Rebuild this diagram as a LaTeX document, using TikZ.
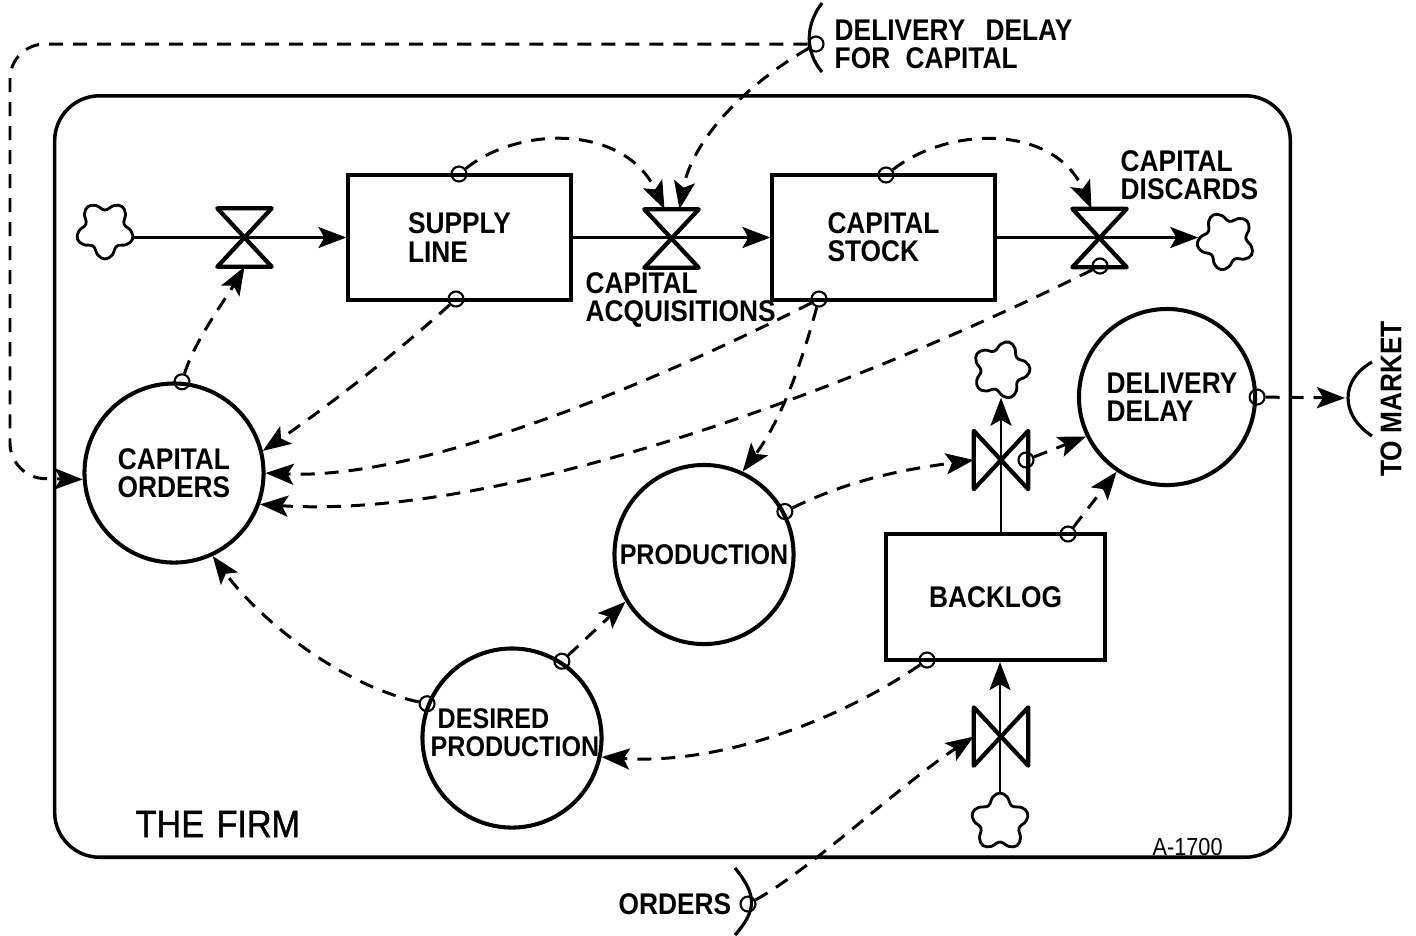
\documentclass[tikz,border=0pt]{standalone}
\usepackage{fontspec}
\setmainfont[FakeStretch=0.88]{Liberation Sans}
\newfontfamily\firmfont[FakeStretch=0.9,FakeBold=1.2]{Liberation Sans}
\usetikzlibrary{arrows.meta}

\tikzset{
  lab/.style={font=\fontsize{8.5}{8}\selectfont\bfseries,align=left,inner sep=0pt},
  wide/.style={font=\fontsize{8.1}{8}\selectfont\bfseries,align=left,inner sep=0pt},
  level/.style={draw,line width=1.15pt,minimum width=2.22cm,minimum height=1.25cm,inner sep=0pt},
  aux/.style={draw,circle,line width=1.15pt,minimum size=1.79cm,inner sep=0pt},
  tap/.style={draw,circle,line width=.6pt,minimum size=.15cm,inner sep=0pt},
  valve/.style={minimum width=.53cm,minimum height=.57cm,inner sep=0pt},
  valveline/.style={line width=1.2pt,line join=round},
  flow/.style={line width=.75pt,-{Stealth[length=2.8mm,width=2.1mm,inset=.6mm]}},
  info/.style={line width=.85pt,dash pattern=on 1.4mm off 1mm,-{Stealth[length=2.8mm,width=2.1mm,inset=.6mm]}},
  rim/.style={line width=.9pt},
}

\newcommand{\puffcloud}[4]{%
  \draw[line width=.8pt,shift={(#2,#3)},rotate=#4] plot[smooth cycle,tension=.7] coordinates {(74:26) (90:29) (106:26) (126:20) (146:26) (162:29) (178:26) (198:20) (218:26) (234:29) (250:26) (270:20) (290:26) (306:29) (322:26) (342:20) (2:26) (18:29) (34:26) (54:20)};
  \node[circle,minimum size=.54cm,inner sep=0pt] (#1) at (#2,#3) {};
}

\begin{document}
\begin{tikzpicture}[x=.01cm,y=-.01cm]
\useasboundingbox (0,0) rectangle (1416,935);
\node[draw,line width=1pt,rounded corners=.45cm,minimum width=12.35cm,minimum height=7.61cm] (firm) at (672.5,476.5) {};
\node[level,lab,draw] (supply) at (459.5,237.5) {SUPPLY\\LINE};
\node[level,lab,draw] (stock) at (883.5,237.5) {CAPITAL\\STOCK};
\node[level,lab,draw,minimum height=1.26cm,minimum width=2.19cm] (backlog) at (995.5,597) {BACKLOG};
\node[aux,lab,align=center,draw] (orders) at (174,473) {CAPITAL\\ORDERS};
\node[aux,wide,draw] (production) at (704,554.5) {PRODUCTION};
\node[aux,draw] (desired) at (512,738) {};
\node[aux,lab,draw,minimum size=1.76cm] (delay) at (1167,397) {\hspace*{.1cm}DELIVERY\\\hspace*{.1cm}DELAY};
\node[wide,anchor=west] (desiredlabel) at (430,733) {\hspace*{.07cm}DESIRED\\PRODUCTION};
\node[valve] (valvea) at (244.5,237.5) {};
\node[valve] (valveb) at (671.5,238.5) {};
\node[valve] (valvec) at (1099.5,238) {};
\node[valve] (valved) at (1001,460) {};
\node[valve] (valvee) at (1001,736.5) {};
\foreach \v in {valvea,valveb,valvec}
  \draw[valveline] (\v.north west) -- (\v.south east) -- (\v.south west) -- (\v.north east) -- cycle;
\foreach \v in {valved,valvee}
  \draw[valveline] (\v.north west) -- (\v.south east) -- (\v.north east) -- (\v.south west) -- cycle;
\puffcloud{clouda}{105}{230}{0}
\puffcloud{cloudb}{1226}{241}{-10}
\puffcloud{cloudc}{1001}{370}{20}
\puffcloud{cloudd}{1000}{822}{180}
\node[tap] (tapa) at (459,174) {};
\node[tap] (tapb) at (456,299) {};
\node[tap] (tapc) at (886,175) {};
\node[tap] (tapd) at (819,299) {};
\node[tap] (tape) at (1100,266) {};
\node[tap] (tapf) at (orders.85) {};
\node[tap] (tapg) at (production.28) {};
\node[tap] (taph) at (desired.57) {};
\node[tap] (tapi) at (desired.158) {};
\node[tap] (tapj) at (delay.east) {};
\node[tap] (tapk) at (1026,460) {};
\node[tap] (tapl) at (1068,534) {};
\node[tap] (tapm) at (927,660) {};
\node[tap] (tapn) at (816,44) {};
\node[tap] (tapo) at (748,904) {};
\coordinate (market) at (1345,398);
\draw[flow] (clouda.east |- supply.west) -- (supply.west);
\draw[flow] (supply.east) -- (stock.west);
\draw[flow] (stock.east) -- (cloudb.west |- stock.east);
\draw[flow] (cloudc.south |- backlog.north) -- (cloudc.south);
\draw[flow] (cloudd.north) -- (cloudd.north |- backlog.south);
\draw[info,rounded corners=.35cm] (tapn) -- (10,44) -- (10,478) -- (orders.184);
\draw[info] (tapn) .. controls (745,85) and (692,140) .. ([xshift=.08cm]valveb.north);
\draw[info] (tapa) .. controls (520,125) and (625,125) .. ([xshift=-.07cm]valveb.north);
\draw[info] (tapc) .. controls (950,125) and (1055,125) .. ([xshift=-.08cm]valvec.north);
\draw[info] (tapb) .. controls (400,350) and (330,405) .. (orders.14);
\draw[info] (tapd) .. controls (650,385) and (420,480) .. (orders.0);
\draw[info] (tape) .. controls (850,390) and (500,520) .. (orders.-20);
\draw[info] (tapd) .. controls (805,350) and (785,415) .. (production.65);
\draw[info] (tapf) .. controls (195,340) and (225,300) .. (valvea.south);
\draw[info] (tapg) .. controls (850,480) and (900,470) .. (valved.west);
\draw[info] (tapk) -- (delay.206);
\draw[info] (tapl) -- (delay.236);
\draw[info] (tapj) -- (market);
\draw[info] (taph) -- (production.211);
\draw[info] (tapi) .. controls (340,685) and (260,620) .. (orders.-65);
\draw[info] (tapm) .. controls (840,720) and (720,765) .. (desired.-12);
\draw[info] (tapo) .. controls (810,870) and (900,785) .. (valvee.west);
\draw[rim] (822,3) .. controls (805,25) and (805,52) .. (822,72);
\draw[rim] (1372,362) .. controls (1340,380) and (1340,415) .. (1372,436);
\draw[rim] (735,868) .. controls (757,895) and (757,910) .. (735,935);
\node[lab,anchor=west] (delaylabel) at (834,44.5) {DELIVERY\hspace{.13cm} DELAY\\FOR\hspace{.08cm} CAPITAL};
\node[lab,anchor=west] (discardslabel) at (1120,175) {CAPITAL\\DISCARDS};
\node[lab,anchor=west] (acquislabel) at (585,300) {CAPITAL\\ACQUISITIONS};
\node[lab,rotate=90] (marketlabel) at (1391,399) {TO MARKET};
\node[lab,anchor=west] (orderslabel) at (618,904) {ORDERS};
\node[anchor=west,inner sep=0pt,font=\firmfont\fontsize{10.8}{12}\selectfont] (firmlabel) at (135,824) {THE\hspace{.03cm} FIRM};
\node[anchor=west,inner sep=0pt,font=\fontsize{7}{8}\selectfont] (codelabel) at (1152,847) {A-1700};
\end{tikzpicture}
\end{document}
